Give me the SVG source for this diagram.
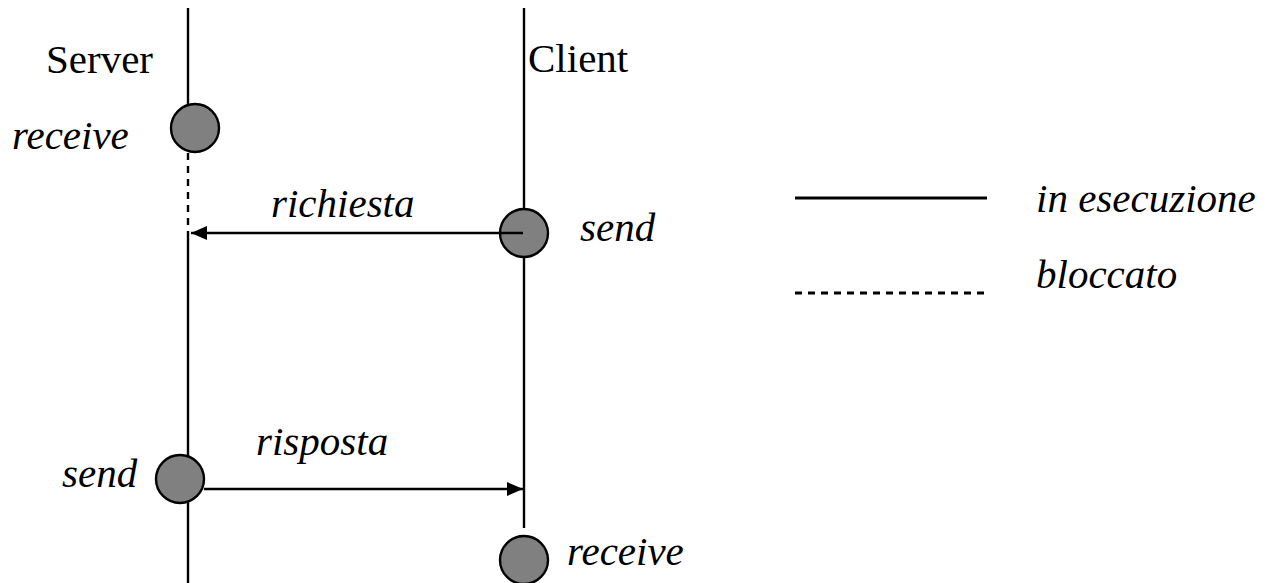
<svg xmlns="http://www.w3.org/2000/svg" width="1274" height="583" viewBox="0 0 1274 583">
<style>
.ln{stroke:#000;stroke-width:2.4;fill:none}
.dash{stroke:#000;stroke-width:2.4;fill:none;stroke-dasharray:7 6}
.ev{fill:#808080;stroke:#000;stroke-width:2.4}
text{font-family:'Liberation Serif','Times New Roman',Times,'DejaVu Serif',serif;font-size:41px;fill:#000}
.i{font-style:italic}
</style>
<defs>
<marker id="ah" markerWidth="17" markerHeight="14" refX="16" refY="7" orient="auto" markerUnits="userSpaceOnUse">
<path d="M0,0 L16,7 L0,14 Z" fill="#000"/>
</marker>
</defs>
<rect width="1274" height="583" fill="#fff"/>
<g id="lifelines">
<line class="ln" x1="188" y1="8" x2="188" y2="110"/>
<line class="dash" x1="188" y1="153" x2="188" y2="232"/>
<line class="ln" x1="188" y1="232" x2="188" y2="583"/>
<line class="ln" x1="524" y1="8" x2="524" y2="528"/>
</g>
<g id="server-receive"><circle class="ev" cx="195" cy="128" r="24"/><text class="i" x="12" y="149">receive</text></g>
<g id="client-send"><circle class="ev" cx="524" cy="233" r="24"/><text class="i" x="580" y="241">send</text></g>
<g id="server-send"><circle class="ev" cx="180" cy="479" r="24"/><text class="i" x="62" y="487">send</text></g>
<g id="client-receive"><circle class="ev" cx="524" cy="560" r="24"/><text class="i" x="567" y="565">receive</text></g>
<g id="labels">
<text x="46" y="73">Server</text>
<text x="528" y="72">Client</text>
</g>
<g id="connectors">
<line class="ln" x1="523" y1="233" x2="191" y2="233" marker-end="url(#ah)"/>
<text class="i" x="271" y="217">richiesta</text>
<line class="ln" x1="204" y1="489" x2="523" y2="489" marker-end="url(#ah)"/>
<text class="i" x="256" y="455">risposta</text>
</g>
<g id="legend">
<line class="ln" x1="795" y1="198" x2="987" y2="198" style="stroke-width:3"/>
<text class="i" x="1036" y="212">in esecuzione</text>
<line class="dash" x1="795" y1="293" x2="985" y2="293" style="stroke-width:3"/>
<text class="i" x="1036" y="288">bloccato</text>
</g>
</svg>
